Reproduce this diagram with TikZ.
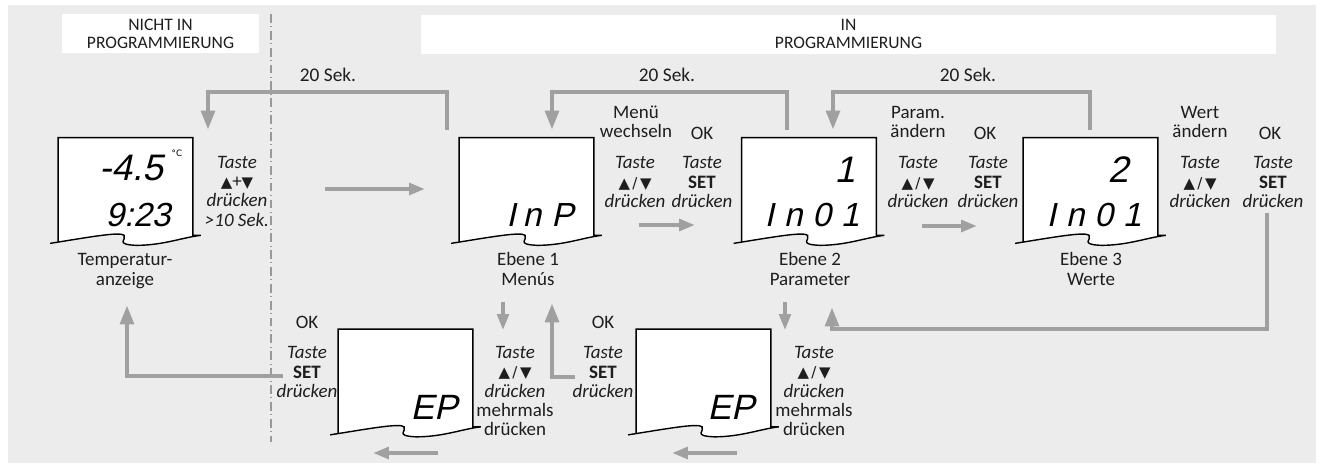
\documentclass[tikz,border=0pt]{standalone}
\usepackage{fontspec}
\setmainfont{Carlito}
\newfontfamily\symfont{DejaVu Sans}
\newfontfamily\lcdfont{Liberation Sans}[FakeSlant=0.22]
\newfontfamily\lcdwide{Liberation Sans}[FakeSlant=0.22,LetterSpace=30]
\usetikzlibrary{arrows.meta,calc}

\definecolor{bggray}{RGB}{235,236,235}
\definecolor{arrowgray}{RGB}{160,160,160}
\definecolor{textgray}{RGB}{30,30,30}

\newcommand{\updown}{{\symfont\fontsize{8.5}{11}\selectfont ▲\,/\,▼}}
\newcommand{\upplusdown}{{\symfont\fontsize{8.5}{11}\selectfont ▲}+{\symfont\fontsize{8.5}{11}\selectfont ▼}}

% display outline with curled lower edge
\newcommand{\displayframe}[1]{%
  \filldraw[lcdframe]
    ($(#1.south west)+(0,6)$) -- (#1.north west) -- (#1.north east)
    -- (#1.south east) -- ($(#1.south east)+(8,0)$)
    .. controls ($(#1.south east)+(-10,2)$) and ($(#1.south west)+(105,10)$) .. ($(#1.south west)+(78,10)$)
    .. controls ($(#1.south west)+(56,9)$) and ($(#1.south west)+(69,4)$) .. ($(#1.south west)+(66,0)$)
    .. controls ($(#1.south west)+(62,-4)$) and ($(#1.south west)+(30,2)$) .. ($(#1.south west)+(-8,8)$);
}

\tikzset{
  lcd/.style={rectangle, inner sep=0pt, minimum width=2.68cm, minimum height=1.94cm},
  lcdframe/.style={fill=white, draw=black, line width=0.8pt},
  lcdtext/.style={inner sep=0pt, text=black, font=\lcdfont\fontsize{21}{21}\selectfont},
  lcdwidetext/.style={inner sep=0pt, text=black, font=\lcdwide\fontsize{19}{19}\selectfont},
  titlebox/.style={fill=white, minimum height=0.78cm, inner sep=0pt, align=center,
    text=textgray, font=\fontsize{10}{10.2}\selectfont},
  keytext/.style={align=center, inner sep=0pt, text=textgray, font=\fontsize{10.8}{11}\selectfont},
  timeout/.style={inner sep=0pt, text=textgray, font=\fontsize{11}{12}\selectfont},
  divider/.style={draw=gray!80, line width=0.6pt, dash pattern=on 5pt off 2pt on 0.6pt off 2pt},
  loopline/.style={draw=arrowgray, line width=2.8pt, -{Triangle[length=11pt,width=7.5pt]}},
  flowline/.style={draw=arrowgray, line width=2.4pt, -{Triangle[length=9pt,width=6.5pt]}}
}

\begin{document}
\begin{tikzpicture}[x=0.02cm, y=-0.02cm]
  \useasboundingbox (0,0) rectangle (1319,467);
  \fill[bggray] (8,5) rectangle (1316,463);

  % headers
  \node[titlebox, minimum width=3.94cm] (notProg) at (160.5,33.5) {NICHT IN\\PROGRAMMIERUNG};
  \node[titlebox, minimum width=17.1cm] (inProg) at (848.5,34) {IN\\PROGRAMMIERUNG};
  \draw[divider] (271,14) -- (271,442);

  % displays
  \node[lcd] (temp) at (125.5,186.5) {};
  \displayframe{temp}
  \node[lcd] (menu) at (526.5,186.5) {};
  \displayframe{menu}
  \node[lcd] (param) at (809,186.5) {};
  \displayframe{param}
  \node[lcd] (value) at (1090.5,186.5) {};
  \displayframe{value}
  \node[lcd] (endA) at (405.5,378) {};
  \displayframe{endA}
  \node[lcd] (endB) at (703.5,378) {};
  \displayframe{endB}

  % readings
  \node[lcdtext] (tempVal) at (131,168) {-4.5};
  \node[inner sep=0pt, font=\symfont\fontsize{5}{6}\selectfont] (tempUnit) at (177,153) {°C};
  \node[lcdtext, font=\lcdfont\fontsize{19}{20}\selectfont] (clock) at (138,215) {9:23};
  \node[lcdwidetext] (menuVal) at (540,215) {I\hspace{4pt}nP};
  \node[lcdtext] (paramTop) at (845,170) {1};
  \node[lcdwidetext] (paramVal) at (812,215) {In01};
  \node[lcdtext] (valueTop) at (1118,170) {2};
  \node[lcdwidetext] (valueVal) at (1094,215) {In01};
  \node[lcdtext, font=\lcdfont\fontsize{20}{20}\selectfont] (endAVal) at (434,407) {EP};
  \node[lcdtext, font=\lcdfont\fontsize{20}{20}\selectfont] (endBVal) at (731,407) {EP};

  % labels under the displays
  \node[keytext] (tempLabel) at (125,271) {Temperatur-\\anzeige};
  \node[keytext] (menuLabel) at (528,269) {Ebene 1\\Menús};
  \node[keytext] (paramLabel) at (810,269) {Ebene 2\\Parameter};
  \node[keytext] (valueLabel) at (1091,269) {Ebene 3\\Werte};

  % key hints
  \node[keytext] (tempKey) at (237,191) {\textit{Taste}\\\upplusdown\\\textit{drücken}\\\textit{>10 Sek.}};
  \node[keytext] (menuHead) at (636,122) {Menü\\wechseln};
  \node[keytext] (menuOk) at (702,133) {OK};
  \node[keytext] (menuKey) at (635,182) {\textit{Taste}\\\updown\\\textit{drücken}};
  \node[keytext] (menuSet) at (702,182) {\textit{Taste}\\\textbf{SET}\\\textit{drücken}};
  \node[keytext] (paramHead) at (918,122) {Param.\\ändern};
  \node[keytext] (paramOk) at (985,133) {OK};
  \node[keytext] (paramKey) at (918,182) {\textit{Taste}\\\updown\\\textit{drücken}};
  \node[keytext] (paramSet) at (988,182) {\textit{Taste}\\\textbf{SET}\\\textit{drücken}};
  \node[keytext] (valueHead) at (1200,122) {Wert\\ändern};
  \node[keytext] (valueOk) at (1270,133) {OK};
  \node[keytext] (valueKey) at (1200,182) {\textit{Taste}\\\updown\\\textit{drücken}};
  \node[keytext] (valueSet) at (1273,182) {\textit{Taste}\\\textbf{SET}\\\textit{drücken}};
  \node[keytext] (endAOk) at (307,322) {OK};
  \node[keytext] (endASet) at (307,372) {\textit{Taste}\\\textbf{SET}\\\textit{drücken}};
  \node[keytext] (endAKey) at (515,391) {\textit{Taste}\\\updown\\\textit{drücken}\\mehrmals\\drücken};
  \node[keytext] (endBOk) at (603,322) {OK};
  \node[keytext] (endBSet) at (603,372) {\textit{Taste}\\\textbf{SET}\\\textit{drücken}};
  \node[keytext] (endBKey) at (814,391) {\textit{Taste}\\\updown\\\textit{drücken}\\mehrmals\\drücken};

  % timeouts
  \node[timeout] (waitA) at (328,75) {20 Sek.};
  \node[timeout] (waitB) at (667,75) {20 Sek.};
  \node[timeout] (waitC) at (968,75) {20 Sek.};
  \coordinate (menuBack) at (447,130);
  \coordinate (tempIn) at (208,130);
  \coordinate (paramBack) at (787,130);
  \coordinate (menuIn) at (552,130);
  \coordinate (valueBack) at (1090,130);
  \coordinate (paramIn) at (833,130);
  \draw[loopline] (menuBack) -- ++(0,-38) -| (tempIn);
  \draw[loopline] (paramBack) -- ++(0,-38) -| (menuIn);
  \draw[loopline] (valueBack) -- ++(0,-38) -| (paramIn);

  % forward steps
  \coordinate (goA) at (325,189);
  \coordinate (goB) at (425,189);
  \draw[flowline] (goA) -- (goB);
  \coordinate (menuGoA) at (639,225);
  \coordinate (menuGoB) at (695,225);
  \draw[flowline] (menuGoA) -- (menuGoB);
  \coordinate (paramGoA) at (922,226);
  \coordinate (paramGoB) at (977,226);
  \draw[flowline] (paramGoA) -- (paramGoB);
  \coordinate (menuDownA) at (503,302);
  \coordinate (menuDownB) at (503,330);
  \draw[flowline, line width=2pt] (menuDownA) -- (menuDownB);
  \coordinate (paramDownA) at (785,302);
  \coordinate (paramDownB) at (785,330);
  \draw[flowline, line width=2pt] (paramDownA) -- (paramDownB);
  \coordinate (endALeftA) at (438,453);
  \coordinate (endALeftB) at (373,453);
  \draw[flowline] (endALeftA) -- (endALeftB);
  \coordinate (endBLeftA) at (737,453);
  \coordinate (endBLeftB) at (672,453);
  \draw[flowline] (endBLeftA) -- (endBLeftB);

  % OK returns
  \coordinate (valueOkOut) at (1267,213);
  \coordinate (paramReturn) at (832,307);
  \draw[loopline] (valueOkOut) -- (1267,329) -| (paramReturn);
  \coordinate (endBOkOut) at (575,377);
  \coordinate (menuReturn) at (552,303);
  \draw[loopline] (endBOkOut) -| (menuReturn);
  \coordinate (endAOkOut) at (283,376);
  \coordinate (tempReturn) at (127,305);
  \draw[loopline] (endAOkOut) -| (tempReturn);
\end{tikzpicture}
\end{document}
